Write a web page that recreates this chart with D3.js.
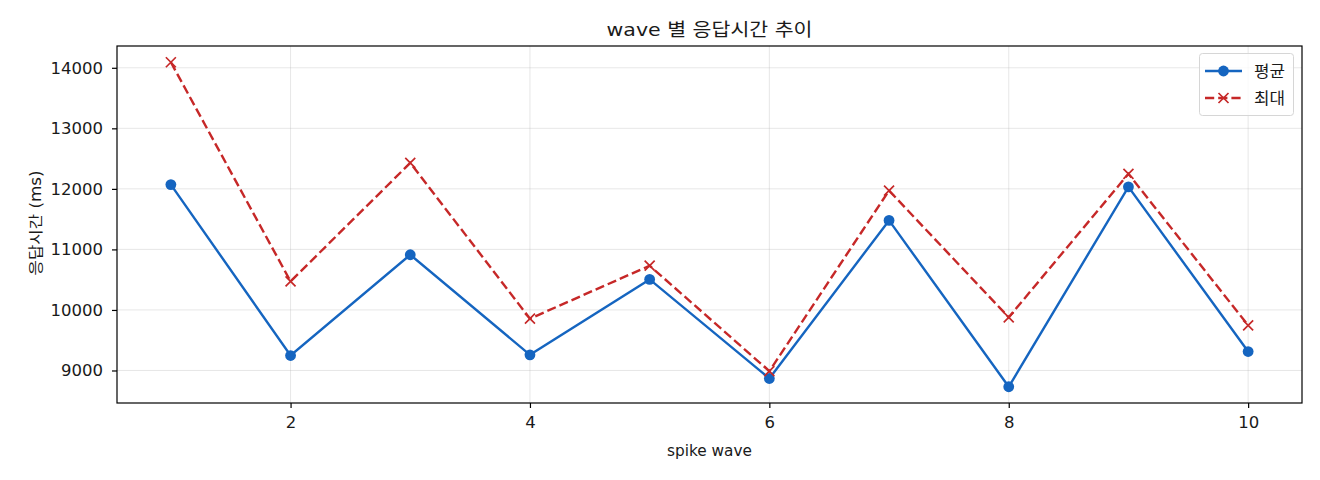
<!DOCTYPE html>
<html><head><meta charset="utf-8">
<script src="https://cdn.jsdelivr.net/npm/d3@7"></script>
<style>
body{margin:0;background:#fff;}
svg{display:block;}
text{font-family:"DejaVu Sans","Noto Sans CJK KR",sans-serif;fill:#1a1a1a;}
</style></head><body>
<script>
const waves = [1,2,3,4,5,6,7,8,9,10];
const avgMs = [12071,9247,10912,9259,10505,8868,11479,8731,12033,9313];
const maxMs = [14092,10472,12429,9856,10731,8989,11972,9878,12248,9746];
const xTicks = [2,4,6,8,10];
const yTicks = [9000,10000,11000,12000,13000,14000];
const seriesNames = ["평균","최대"];
const title = "wave 별 응답시간 추이";
const xLabel = "spike wave";
const yLabel = "응답시간 (ms)";

const W=1320,H=480;
const m={l:117,r:1302,t:46,b:403};
const blue="#1565c0", red="#c62828";
const FF="'DejaVu Sans','Noto Sans CJK KR',sans-serif";

const svg=d3.select("body").append("svg").attr("width",W).attr("height",H);

const x=d3.scaleLinear().domain([0.55,10.45]).range([m.l,m.r]);
const allV=avgMs.concat(maxMs);
const lo=d3.min(allV), hi=d3.max(allV), pad=(hi-lo)*0.05;
const y=d3.scaleLinear().domain([lo-pad,hi+pad]).range([m.b,m.t]);

// grid
const g=svg.append("g");
g.selectAll(".gx").data(xTicks).enter().append("line")
 .attr("x1",d=>x(d)).attr("x2",d=>x(d)).attr("y1",m.t).attr("y2",m.b)
 .attr("stroke","#b0b0b0").attr("stroke-opacity",0.3).attr("stroke-width",1);
g.selectAll(".gy").data(yTicks).enter().append("line")
 .attr("x1",m.l).attr("x2",m.r).attr("y1",d=>y(d)).attr("y2",d=>y(d))
 .attr("stroke","#b0b0b0").attr("stroke-opacity",0.3).attr("stroke-width",1);

// axes
const xAxis=d3.axisBottom(x).tickValues(xTicks).tickSize(5).tickPadding(8).tickFormat(d3.format("d"));
const yAxis=d3.axisLeft(y).tickValues(yTicks).tickSize(5).tickPadding(9).tickFormat(d3.format("d"));
const ax=svg.append("g").attr("transform",`translate(0,${m.b})`).call(xAxis);
const ay=svg.append("g").attr("transform",`translate(${m.l},0)`).call(yAxis);
[ax,ay].forEach(a=>{
  a.select(".domain").remove();
  a.selectAll(".tick line").attr("stroke","#000").attr("stroke-width",1.2);
  a.selectAll(".tick text").attr("font-size","16.5px").attr("fill","#1a1a1a")
   .attr("font-family",FF);
});

// lines
const line=arr=>d3.line().x((d,i)=>x(waves[i])).y(d=>y(d))(arr);
const dash="9.2,4";
svg.append("path").attr("d",line(maxMs)).attr("fill","none").attr("stroke",red)
 .attr("stroke-width",2.4).attr("stroke-dasharray",dash);
svg.append("path").attr("d",line(avgMs)).attr("fill","none").attr("stroke",blue)
 .attr("stroke-width",2.4);

svg.selectAll(".dot").data(avgMs).enter().append("circle")
 .attr("cx",(d,i)=>x(waves[i])).attr("cy",d=>y(d)).attr("r",5.4).attr("fill",blue);
const xs=5;
const xMark=(cx,cy)=>`M${cx-xs},${cy-xs}L${cx+xs},${cy+xs}M${cx-xs},${cy+xs}L${cx+xs},${cy-xs}`;
svg.selectAll(".xm").data(maxMs).enter().append("path")
 .attr("d",(d,i)=>xMark(x(waves[i]),y(d))).attr("stroke",red).attr("stroke-width",1.7).attr("fill","none");

// frame
svg.append("rect").attr("x",m.l).attr("y",m.t).attr("width",m.r-m.l).attr("height",m.b-m.t)
 .attr("fill","none").attr("stroke","#000").attr("stroke-width",1.2);

// labels
svg.append("text").attr("x",(m.l+m.r)/2).attr("y",36).attr("text-anchor","middle")
 .attr("font-size","18px").attr("textLength",206).attr("lengthAdjust","spacingAndGlyphs").text(title);
svg.append("text").attr("x",(m.l+m.r)/2).attr("y",456).attr("text-anchor","middle")
 .attr("font-size","15px").attr("textLength",85).attr("lengthAdjust","spacingAndGlyphs").text(xLabel);
svg.append("text").attr("transform",`translate(41,223) rotate(-90)`).attr("text-anchor","middle")
 .attr("font-size","15px").attr("textLength",105).attr("lengthAdjust","spacingAndGlyphs").text(yLabel);

// legend
const lg=svg.append("g");
lg.append("rect").attr("x",1199.5).attr("y",53.5).attr("width",94).attr("height",62).attr("rx",3)
 .attr("fill","#fff").attr("fill-opacity",0.8).attr("stroke","#d6d6d6").attr("stroke-width",1);
const rows=[{n:seriesNames[0],c:blue,dash:null,mk:"o",yy:71},{n:seriesNames[1],c:red,dash:dash,mk:"x",yy:98}];
rows.forEach(r=>{
  lg.append("line").attr("x1",1205).attr("x2",1242).attr("y1",r.yy).attr("y2",r.yy)
   .attr("stroke",r.c).attr("stroke-width",2.4).attr("stroke-dasharray",r.dash);
  if(r.mk==="o") lg.append("circle").attr("cx",1223.5).attr("cy",r.yy).attr("r",5.4).attr("fill",r.c);
  else lg.append("path").attr("d",xMark(1223.5,r.yy)).attr("stroke",r.c).attr("stroke-width",1.7);
  lg.append("text").attr("x",1254).attr("y",r.yy+6).attr("font-size","16px")
   .attr("textLength",31).attr("lengthAdjust","spacingAndGlyphs").text(r.n);
});
</script>
</body></html>
